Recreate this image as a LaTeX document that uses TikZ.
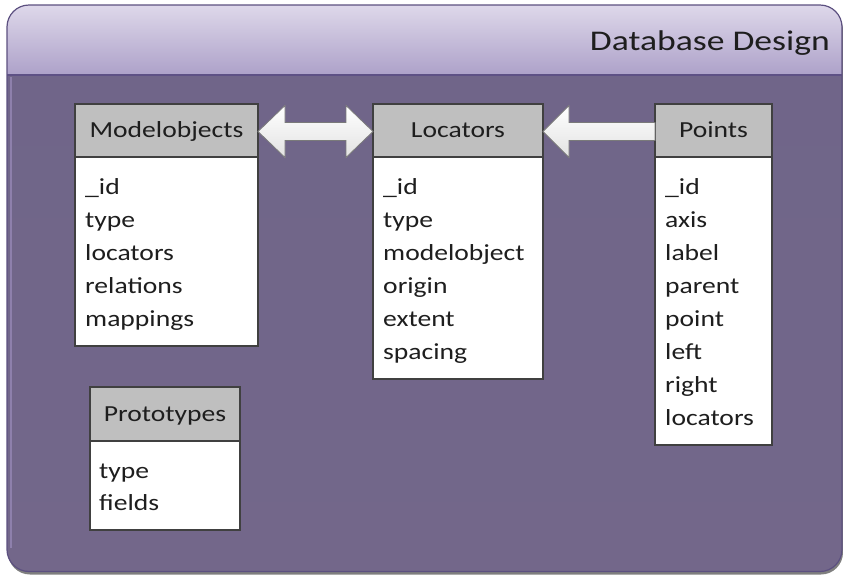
\documentclass[tikz,border=0pt]{standalone}
\usepackage{fontspec}
\setmainfont{Carlito}[FakeStretch=1.2]
\newfontfamily\titlefont{Carlito}[FakeStretch=1.25]
\usetikzlibrary{calc}

\definecolor{headtop}{HTML}{DED8EA}
\definecolor{headbot}{HTML}{ADA1C9}
\definecolor{bodytop}{HTML}{6F6589}
\definecolor{bodymid}{HTML}{7A6D95}
\definecolor{bodybot}{HTML}{73678A}
\definecolor{framec}{HTML}{5C5080}
\definecolor{sepc}{HTML}{5E5185}
\definecolor{glint}{HTML}{8E80AC}
\definecolor{shadowc}{HTML}{7F7F7F}
\definecolor{hdrfill}{HTML}{BFBFBF}
\definecolor{tblline}{HTML}{404040}
\definecolor{txt}{HTML}{1E1E1E}
\definecolor{arrowbot}{HTML}{E2E2E2}
\definecolor{arrowline}{HTML}{7A7A7A}

\begin{document}
\begin{tikzpicture}[x=1pt,y=-1pt,
  every node/.style={font=\fontsize{23}{27}\selectfont, text=txt},
  hdr/.style={draw=tblline, fill=hdrfill, line width=1.2pt, outer sep=0pt,
    inner sep=0pt, minimum height=53pt, text height=18.5pt, text depth=4.5pt,
    anchor=north west},
  bdy/.style={draw=tblline, fill=white, line width=1.2pt, outer sep=0pt,
    inner sep=0pt, anchor=north west},
  fld/.style={inner sep=0pt, anchor=base west},
  blockarrow/.style={top color=white, bottom color=arrowbot, draw=arrowline,
    line width=0.8pt, line join=miter}
]
\useasboundingbox (0,0) rectangle (843,574);

% panel: shadow, body, header band, frame
\fill[shadowc, rounded corners=22pt] (8,8) rectangle (843,574.5);
\shade[rounded corners=22pt, top color=bodytop, middle color=bodymid,
  bottom color=bodybot] (7,5) rectangle (842,571.5);
\begin{scope}
  \clip[rounded corners=22pt] (7,5) rectangle (842,571.5);
  \shade[top color=headtop, bottom color=headbot] (7,5) rectangle (842,75);
\end{scope}
\draw[sepc, line width=1.6pt] (7,75) -- (842,75);
\draw[glint, line width=2pt] (10.5,77) -- (10.5,548);
\draw[framec, line width=1.2pt, rounded corners=22pt] (7,5) rectangle (842,571.5);

\node[font=\titlefont\fontsize{28.5}{32}\selectfont, anchor=base east,
  inner sep=0pt] (title) at (830,50) {Database Design};

% tables
\node[hdr, minimum width=183pt] (mo-h) at (75,104) {Modelobjects};
\node[bdy, minimum width=183pt, minimum height=189pt] (mo-b) at (mo-h.south west) {};
\foreach \f [count=\i] in {\_id, type, locators, relations, mappings}
  \node[fld] (mo-f\i) at ($(mo-b.north west)+(10,{37+33*(\i-1)})$) {\f};

\node[hdr, minimum width=170pt] (lo-h) at (373,104) {Locators};
\node[bdy, minimum width=170pt, minimum height=222pt] (lo-b) at (lo-h.south west) {};
\foreach \f [count=\i] in {\_id, type, modelobject, origin, extent, spacing}
  \node[fld] (lo-f\i) at ($(lo-b.north west)+(10,{37+33*(\i-1)})$) {\f};

\node[hdr, minimum width=117pt] (pt-h) at (655,104) {Points};
\node[bdy, minimum width=117pt, minimum height=288pt] (pt-b) at (pt-h.south west) {};
\foreach \f [count=\i] in {\_id, axis, label, parent, point, left, right, locators}
  \node[fld] (pt-f\i) at ($(pt-b.north west)+(10,{37+33*(\i-1)})$) {\f};

\node[hdr, minimum width=150pt, minimum height=54pt] (pr-h) at (90,387) {Prototypes};
\node[bdy, minimum width=150pt, minimum height=89pt] (pr-b) at (pr-h.south west) {};
\foreach \f [count=\i] in {type, fields}
  \node[fld] (pr-f\i) at ($(pr-b.north west)+(9,{37+32*(\i-1)})$) {\f};

% two-headed block arrow between Modelobjects and Locators
\coordinate (ta) at ($(mo-h.east)+(0,1)$);
\coordinate (tb) at ($(lo-h.west)+(0,1)$);
\shadedraw[blockarrow] (ta) -- ($(ta)+(27,-26)$) -- ($(ta)+(27,-9)$)
  -- ($(tb)+(-27,-9)$) -- ($(tb)+(-27,-26)$) -- (tb)
  -- ($(tb)+(-27,26)$) -- ($(tb)+(-27,9)$) -- ($(ta)+(27,9)$)
  -- ($(ta)+(27,26)$) -- cycle;

% block arrow from Points to Locators
\coordinate (tc) at ($(lo-h.east)+(0,1)$);
\coordinate (td) at ($(pt-h.west)+(0,1)$);
\shadedraw[blockarrow] (tc) -- ($(tc)+(26,-26)$) -- ($(tc)+(26,-9)$)
  -- ($(td)+(0,-9)$) -- ($(td)+(0,9)$) -- ($(tc)+(26,9)$)
  -- ($(tc)+(26,26)$) -- cycle;
\end{tikzpicture}
\end{document}
